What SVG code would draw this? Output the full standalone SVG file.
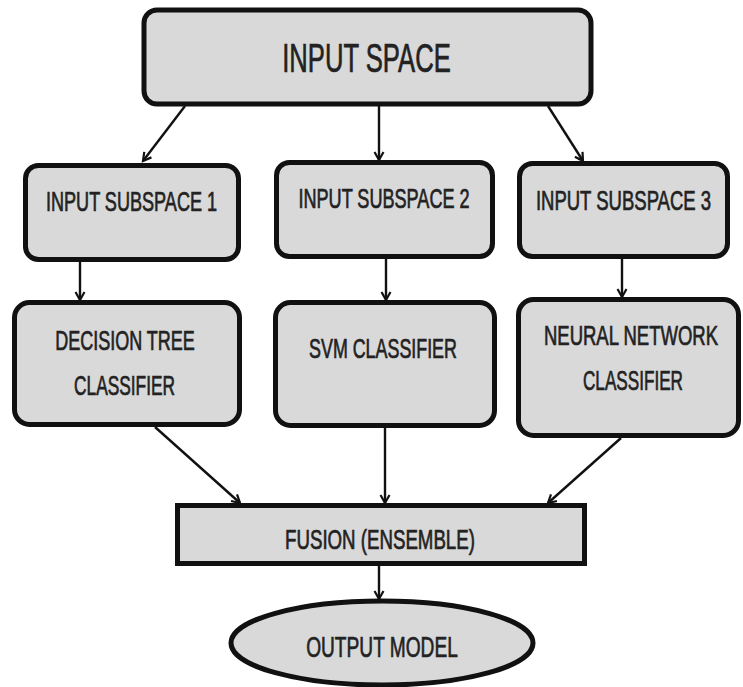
<svg xmlns="http://www.w3.org/2000/svg" width="743" height="687" viewBox="0 0 743 687">
<style>
.box{fill:#d9d9d9;stroke:#111;stroke-width:5}
.lbl{font-family:"Liberation Sans",Arial,sans-serif;fill:#222;stroke:#222;stroke-width:0.7;text-anchor:middle}
.m{font-size:27px}
.conn line{stroke:#111;stroke-width:2.4}
</style>
<defs>
<marker id="arr" markerUnits="userSpaceOnUse" markerWidth="12" markerHeight="12" refX="9" refY="5" orient="auto" viewBox="0 0 12 10">
<path d="M1,0.5 L9,5 L1,9.5" fill="none" stroke="#111" stroke-width="2.2"/>
</marker>
</defs>
<rect width="743" height="687" fill="#fff"/>
<g id="connectors" class="conn">
<line x1="185" y1="106" x2="143" y2="161" marker-end="url(#arr)"/>
<line x1="379" y1="106" x2="379" y2="160" marker-end="url(#arr)"/>
<line x1="548" y1="106" x2="583" y2="161" marker-end="url(#arr)"/>
<line x1="80" y1="262" x2="80" y2="300" marker-end="url(#arr)"/>
<line x1="386" y1="259" x2="386" y2="300" marker-end="url(#arr)"/>
<line x1="622" y1="259" x2="622" y2="297" marker-end="url(#arr)"/>
<line x1="155" y1="427" x2="240" y2="503" marker-end="url(#arr)"/>
<line x1="385" y1="428" x2="385" y2="503" marker-end="url(#arr)"/>
<line x1="621" y1="438" x2="548" y2="503" marker-end="url(#arr)"/>
<line x1="379" y1="566" x2="379" y2="599" marker-end="url(#arr)"/>
</g>
<g id="input-space">
<rect class="box" x="144" y="10" width="447" height="94" rx="13"/>
<text class="lbl" font-size="40" transform="translate(366.5,72) scale(0.641,1)">INPUT SPACE</text>
</g>
<g id="subspace1">
<rect class="box" x="25.5" y="165.5" width="213" height="94" rx="13"/>
<text class="lbl m" transform="translate(131.5,211) scale(0.67,1)">INPUT SUBSPACE 1</text>
</g>
<g id="subspace2">
<rect class="box" x="276.5" y="162.5" width="216" height="94" rx="13"/>
<text class="lbl m" transform="translate(384,208) scale(0.67,1)">INPUT SUBSPACE 2</text>
</g>
<g id="subspace3">
<rect class="box" x="519.5" y="163.5" width="208" height="93" rx="13"/>
<text class="lbl m" transform="translate(623.5,210) scale(0.686,1)">INPUT SUBSPACE 3</text>
</g>
<g id="decision-tree">
<rect class="box" x="14.5" y="302.5" width="225" height="122" rx="15"/>
<text class="lbl m" transform="translate(125,350) scale(0.667,1)">DECISION TREE</text>
<text class="lbl m" transform="translate(124.5,395) scale(0.641,1)">CLASSIFIER</text>
</g>
<g id="svm">
<rect class="box" x="275.5" y="302.5" width="219" height="123" rx="15"/>
<text class="lbl m" transform="translate(383,358) scale(0.662,1)">SVM CLASSIFIER</text>
</g>
<g id="neural-network">
<rect class="box" x="518.5" y="299.5" width="220" height="136" rx="15"/>
<text class="lbl m" transform="translate(631,345) scale(0.686,1)">NEURAL NETWORK</text>
<text class="lbl m" transform="translate(633,390) scale(0.635,1)">CLASSIFIER</text>
</g>
<g id="fusion">
<rect class="box" x="177.5" y="505.5" width="407" height="58"/>
<text class="lbl m" transform="translate(380,549) scale(0.692,1)">FUSION (ENSEMBLE)</text>
</g>
<g id="output-model">
<ellipse class="box" cx="382" cy="643" rx="151" ry="42"/>
<text class="lbl" font-size="30" transform="translate(382,657) scale(0.638,1)">OUTPUT MODEL</text>
</g>
</svg>
